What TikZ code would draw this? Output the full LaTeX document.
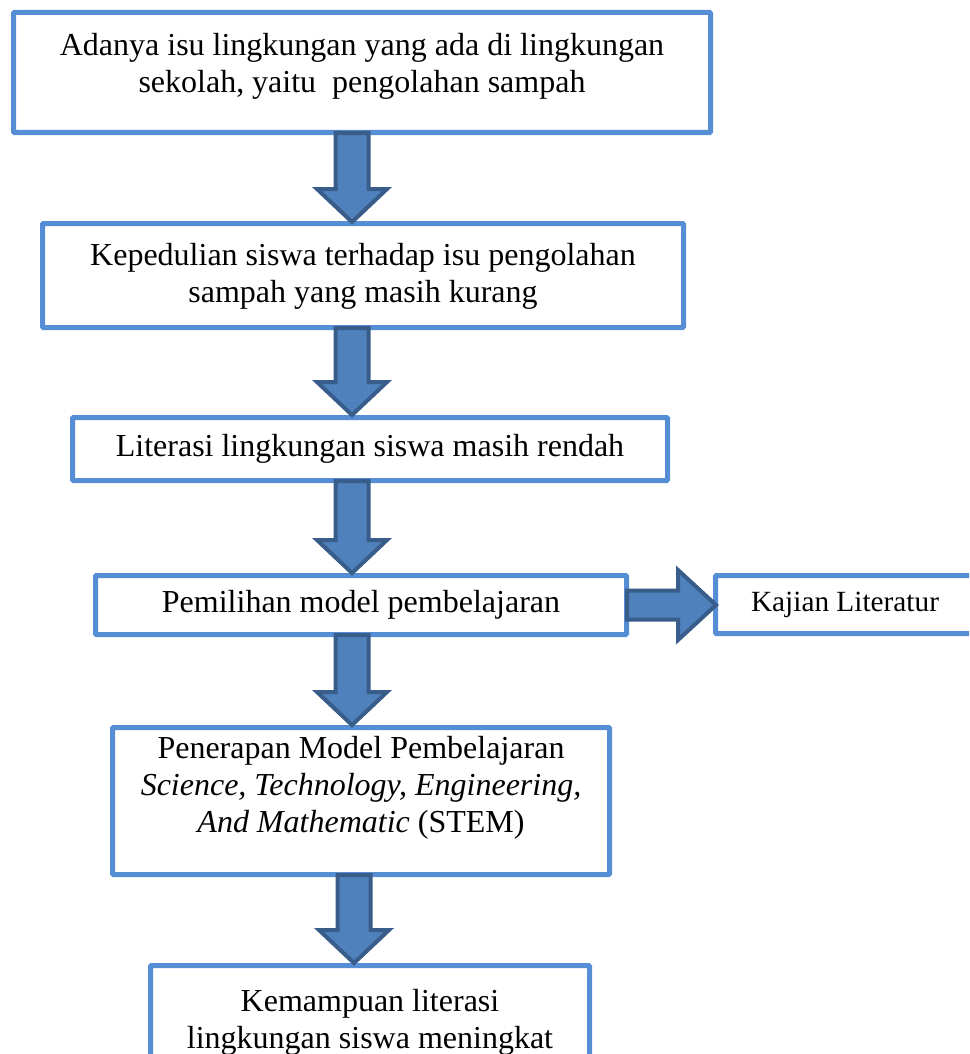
\documentclass[tikz,border=0pt]{standalone}
\usepackage{fontspec}
\setmainfont{Liberation Serif}
\usetikzlibrary{calc}
\definecolor{boxline}{RGB}{85,142,213}
\definecolor{arrfill}{RGB}{79,129,189}
\definecolor{arrline}{RGB}{56,93,138}
\tikzset{
  box/.style={draw=boxline, line width=5pt, fill=white, rounded corners=1pt, inner sep=0pt},
  txt/.style={align=center, font=\fontsize{32}{37}\selectfont, inner sep=0pt},
  smalltxt/.style={align=center, font=\fontsize{29.3}{34}\selectfont, inner sep=0pt},
  blockarrow/.style={draw=arrline, fill=arrfill, line width=4pt, line join=miter}
}
\newcommand{\downblock}[2]{%
  \draw[blockarrow] let \p1=(#1), \p2=(#2) in
    (\x1-16.5pt,\y1+2pt) -- (\x1-16.5pt,\y2+33pt) -- (\x1-35pt,\y2+33pt) -- (\x1,\y2)
    -- (\x1+35pt,\y2+33pt) -- (\x1+16.5pt,\y2+33pt) -- (\x1+16.5pt,\y1+2pt) -- cycle;}
\begin{document}
\begin{tikzpicture}[x=1pt,y=-1pt]
\useasboundingbox (0,0) rectangle (969,1054);
\clip (0,0) rectangle (969,1054);
% boxes
\node[box, minimum width=697pt, minimum height=120pt] (b1) at (362,72.5) {};
\node[box, minimum width=641pt, minimum height=104pt] (b2) at (363,275.5) {};
\node[box, minimum width=595pt, minimum height=63pt] (b3) at (370,449) {};
\node[box, minimum width=531pt, minimum height=59pt] (b4) at (361,605) {};
\node[box, minimum width=265pt, minimum height=58pt] (b5) at (848,604.5) {};
\node[box, minimum width=497pt, minimum height=147pt] (b6) at (361,801) {};
\node[box, minimum width=439pt, minimum height=102pt] (b7) at (370,1016.5) {};
% texts
\node[txt] (t1) at (362,66.5) {Adanya isu lingkungan yang ada di lingkungan\\sekolah, yaitu\ \ pengolahan sampah};
\node[txt] (t2) at (363,276.5) {Kepedulian siswa terhadap isu pengolahan\\sampah yang masih kurang};
\node[txt] (t3) at (370,449) {Literasi lingkungan siswa masih rendah};
\node[txt] (t4) at (361,605) {Pemilihan model pembelajaran};
\node[smalltxt] (t5) at (845,605) {Kajian Literatur};
\node[txt] (t6) at (361,787.5) {Penerapan Model Pembelajaran\\\textit{Science, Technology, Engineering,}\\\textit{And Mathematic} (STEM)};
\node[txt] (t7) at (370,1022) {Kemampuan literasi\\lingkungan siswa meningkat};
% arrow anchor coordinates
\coordinate (a1s) at (352,135);
\coordinate (a1e) at (352,222);
\coordinate (a2s) at (352,330);
\coordinate (a2e) at (352,415);
\coordinate (a3s) at (352,483);
\coordinate (a3e) at (352,573);
\coordinate (a4s) at (352,637);
\coordinate (a4e) at (352,725);
\coordinate (a5s) at (354,877);
\coordinate (a5e) at (354,963);
\downblock{a1s}{a1e}
\downblock{a2s}{a2e}
\downblock{a3s}{a3e}
\downblock{a4s}{a4e}
\downblock{a5s}{a5e}
% right arrow
\draw[blockarrow] let \p1=(b4.east), \p2=(b5.west) in
  (\x1-2pt,\y1+14.5pt) -- (\x2-35pt,\y1+14.5pt) -- (\x2-35pt,\y1+35pt) -- (\x2+3pt,\y1)
  -- (\x2-35pt,\y1-35pt) -- (\x2-35pt,\y1-14.5pt) -- (\x1-2pt,\y1-14.5pt) -- cycle;
\end{tikzpicture}
\end{document}
